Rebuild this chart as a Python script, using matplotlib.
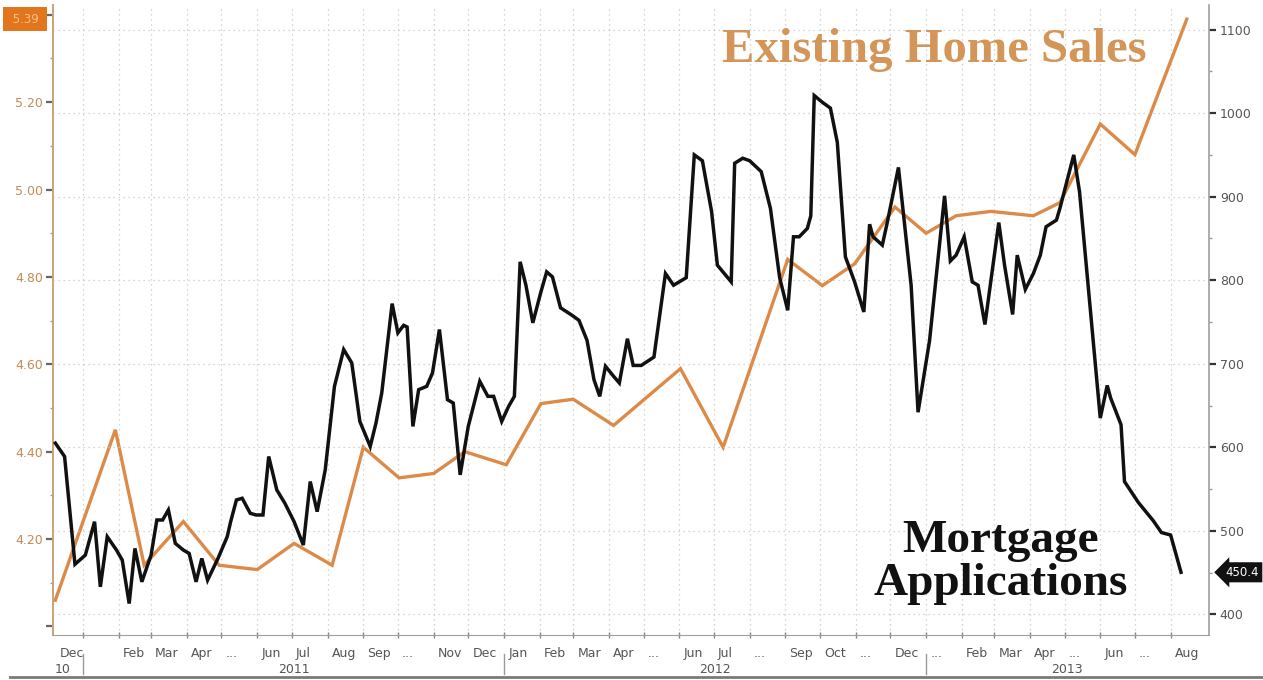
import matplotlib
matplotlib.use('Agg')
import matplotlib.pyplot as plt
import matplotlib.dates as mdates
import matplotlib.transforms as mtransforms
from matplotlib.lines import Line2D
from matplotlib.ticker import MultipleLocator, FuncFormatter
import pandas as pd

# Weekly MBA mortgage applications index (right axis)
app_dates = ['2010-12-08', '2010-12-16', '2010-12-25', '2011-01-03', '2011-01-11', '2011-01-16',
             '2011-01-22', '2011-01-30', '2011-02-04', '2011-02-10', '2011-02-15', '2011-02-21',
             '2011-03-01', '2011-03-06', '2011-03-11', '2011-03-16', '2011-03-22', '2011-03-29',
             '2011-04-03', '2011-04-09', '2011-04-14', '2011-04-19', '2011-04-28', '2011-05-06',
             '2011-05-09', '2011-05-14', '2011-05-19', '2011-05-26', '2011-05-31', '2011-06-06',
             '2011-06-11', '2011-06-18', '2011-06-25', '2011-07-03', '2011-07-11', '2011-07-17',
             '2011-07-23', '2011-07-30', '2011-08-07', '2011-08-15', '2011-08-22', '2011-08-29',
             '2011-09-04', '2011-09-07', '2011-09-12', '2011-09-17', '2011-09-26', '2011-10-01',
             '2011-10-06', '2011-10-09', '2011-10-14', '2011-10-19', '2011-10-26', '2011-10-31',
             '2011-11-06', '2011-11-13', '2011-11-18', '2011-11-24', '2011-12-01', '2011-12-11',
             '2011-12-18', '2011-12-23', '2011-12-30', '2012-01-05', '2012-01-10', '2012-01-15',
             '2012-01-20', '2012-01-26', '2012-02-02', '2012-02-07', '2012-02-12', '2012-02-19',
             '2012-02-29', '2012-03-06', '2012-03-13', '2012-03-19', '2012-03-24', '2012-03-29',
             '2012-04-05', '2012-04-10', '2012-04-17', '2012-04-22', '2012-04-29', '2012-05-10',
             '2012-05-20', '2012-05-27', '2012-06-07', '2012-06-14', '2012-06-21', '2012-06-29',
             '2012-07-04', '2012-07-16', '2012-07-19', '2012-07-26', '2012-08-01', '2012-08-11',
             '2012-08-19', '2012-08-27', '2012-09-03', '2012-09-08', '2012-09-13', '2012-09-20',
             '2012-09-23', '2012-09-26', '2012-10-03', '2012-10-10', '2012-10-16', '2012-10-23',
             '2012-10-31', '2012-11-08', '2012-11-13', '2012-11-16', '2012-11-24', '2012-11-28',
             '2012-12-08', '2012-12-19', '2012-12-25', '2013-01-04', '2013-01-17', '2013-01-22',
             '2013-01-27', '2013-02-03', '2013-02-10', '2013-02-15', '2013-02-21', '2013-03-05',
             '2013-03-10', '2013-03-17', '2013-03-21', '2013-03-28', '2013-04-04', '2013-04-10',
             '2013-04-15', '2013-04-24', '2013-04-27', '2013-05-09', '2013-05-14', '2013-06-01',
             '2013-06-07', '2013-06-10', '2013-06-19', '2013-06-22', '2013-07-04', '2013-07-17',
             '2013-07-24', '2013-08-01', '2013-08-10']
app_values = [605, 589, 460, 471, 511, 433,
              493, 477, 465, 413, 479, 439,
              471, 513, 513, 525, 485, 477,
              473, 439, 467, 441, 467, 493,
              511, 537, 539, 521, 519, 519,
              589, 549, 533, 511, 483, 559,
              523, 573, 673, 717, 701, 631,
              611, 601, 629, 665, 772, 737,
              746, 744, 625, 669, 673, 689,
              741, 657, 653, 567, 625, 679,
              661, 661, 631, 649, 661, 822,
              794, 749, 786, 810, 804, 767,
              758, 752, 728, 681, 661, 697,
              685, 677, 730, 698, 698, 708,
              808, 794, 803, 950, 943, 882,
              818, 798, 940, 946, 943, 930,
              886, 803, 764, 852, 852, 862,
              877, 1021, 1013, 1006, 965, 828,
              798, 762, 867, 852, 842, 867,
              935, 794, 642, 728, 901, 823,
              830, 852, 798, 794, 747, 869,
              818, 759, 830, 789, 808, 830,
              864, 872, 886, 950, 906, 635,
              674, 659, 627, 559, 534, 512,
              498, 495, 450.4]

# Existing home sales, millions (left axis)
sales_dates = ['2010-12-08', '2011-01-29', '2011-02-23', '2011-03-29', '2011-04-29', '2011-06-01',
               '2011-07-03', '2011-08-05', '2011-09-01', '2011-10-02', '2011-11-01', '2011-11-28',
               '2012-01-03', '2012-02-02', '2012-03-01', '2012-04-05', '2012-06-02', '2012-07-09',
               '2012-09-03', '2012-10-03', '2012-10-31', '2012-12-05', '2013-01-01', '2013-01-27',
               '2013-02-26', '2013-04-04', '2013-04-27', '2013-06-01', '2013-07-01', '2013-08-15']
sales_values = [4.06, 4.45, 4.14, 4.24, 4.14, 4.13,
                4.19, 4.14, 4.41, 4.34, 4.35, 4.40,
                4.37, 4.51, 4.52, 4.46, 4.59, 4.41,
                4.84, 4.78, 4.83, 4.96, 4.90, 4.94,
                4.95, 4.94, 4.97, 5.15, 5.08, 5.39]

# month labels, Jan 2011 .. Aug 2013
month_labels = ['', 'Feb', 'Mar', 'Apr', '...', 'Jun', 'Jul', 'Aug', 'Sep', '...', 'Nov', 'Dec',
                'Jan', 'Feb', 'Mar', 'Apr', '...', 'Jun', 'Jul', '...', 'Sep', 'Oct', '...', 'Dec',
                '...', 'Feb', 'Mar', 'Apr', '...', 'Jun', '...', 'Aug']
first_label = 'Dec'
year_labels = ['10', '2011', '2012', '2013']

ORANGE = '#dc8a48'
TITLE_ORANGE = '#d39558'
GRID = '#c8c8c8'
TICK_GREY = '#555555'

app_x = mdates.date2num(pd.to_datetime(app_dates))
sales_x = mdates.date2num(pd.to_datetime(sales_dates))
x_start = mdates.date2num(pd.Timestamp('2010-12-06'))
x_end = mdates.date2num(pd.Timestamp('2013-09-03'))
months = mdates.date2num(pd.date_range('2011-01-01', '2013-08-01', freq='MS'))
years = mdates.date2num(pd.to_datetime(['2011-01-01', '2012-01-01', '2013-01-01']))

fig = plt.figure(figsize=(12.63, 6.8), dpi=100)
ax = fig.add_axes([0.042, 0.066, 0.915, 0.927])
ax2 = ax.twinx()

# lines
ax.plot(sales_x, sales_values, color=ORANGE, lw=2.4, solid_joinstyle='miter', zorder=3)
ax2.plot(app_x, app_values, color='#111111', lw=2.5, solid_joinstyle='miter', zorder=3)

ax.set_xlim(x_start, x_end)
ax.set_ylim(3.98, 5.423)
ax2.set_ylim(375.2, 1129.7)

# grid: dotted verticals at month starts, dotted horizontals at right-axis ticks
for m in months:
    ax.axvline(m, color=GRID, lw=0.9, ls=(0, (1, 3)), zorder=1)
ax2.yaxis.set_major_locator(MultipleLocator(100))
ax2.yaxis.set_minor_locator(MultipleLocator(50))
ax2.grid(axis='y', which='major', color=GRID, lw=0.9, ls=(0, (1, 3)), zorder=0)

# left axis (top tick sits under the last-value tag)
ax.yaxis.set_major_locator(MultipleLocator(0.2))
ax.yaxis.set_minor_locator(MultipleLocator(0.1))
ax.yaxis.set_major_formatter(FuncFormatter(lambda v, p: '' if v < 4.1 or v > 5.3 else f'{v:.2f}'))
ax.tick_params(axis='y', which='major', direction='out', length=5, width=1.6, color='#666666',
               labelsize=9, labelcolor='#c48a55', pad=2)
ax.tick_params(axis='y', which='minor', direction='out', length=2, width=1, color='#999999')

# right axis
ax2.tick_params(axis='y', which='major', direction='out', length=5, width=1.6, color='#333333',
                labelsize=9, labelcolor=TICK_GREY, pad=3)
ax2.tick_params(axis='y', which='minor', direction='out', length=2, width=1, color='#999999')

# x axis: month ticks, labels drawn as text
ax.set_xticks(months)
ax.xaxis.set_major_formatter(plt.NullFormatter())
ax.tick_params(axis='x', direction='inout', length=4, width=1, color='#888888')

xtrans = mtransforms.blended_transform_factory(ax.transData, ax.transAxes)
for m, lab in zip(months, month_labels):
    ax.annotate(lab, xy=(m, 0), xycoords=xtrans, xytext=(3, -13), textcoords='offset points',
                ha='left', va='center', fontsize=9, color=TICK_GREY)
ax.annotate(first_label, xy=(x_start, 0), xycoords=xtrans, xytext=(5, -13),
            textcoords='offset points', ha='left', va='center', fontsize=9, color=TICK_GREY)

# year row with separators
ax.annotate(year_labels[0], xy=(x_start, 0), xycoords=xtrans, xytext=(1, -25),
            textcoords='offset points', ha='left', va='center', fontsize=9, color=TICK_GREY)
year_ends = list(years[1:]) + [x_end]
for y0, y1, lab in zip(years, year_ends, year_labels[1:]):
    ax.annotate(lab, xy=((y0 + y1) / 2, 0), xycoords=xtrans, xytext=(0, -25),
                textcoords='offset points', ha='center', va='center', fontsize=9, color=TICK_GREY)
for y0 in years:
    ax.plot([y0, y0], [-0.03, -0.062], transform=xtrans, color='#9a9a9a', lw=1, clip_on=False)

# spines
for a in (ax, ax2):
    a.spines['top'].set_visible(False)
ax.spines['left'].set_color('#c9a27a')
ax.spines['left'].set_linewidth(1.4)
ax2.spines['left'].set_visible(False)
ax2.spines['right'].set_color('#a0a0a0')
ax2.spines['right'].set_linewidth(1.2)
ax.spines['bottom'].set_color('#a0a0a0')
ax2.spines['bottom'].set_visible(False)
ax.spines['right'].set_visible(False)

# last-value tags
ax.annotate(f' {sales_values[-1]:.2f} ', xy=(0, sales_values[-1]), xycoords=('axes fraction', 'data'),
            xytext=(-20, 0), textcoords='offset points', ha='center', va='center',
            fontsize=8.5, color='#f6c08c', annotation_clip=False,
            bbox=dict(boxstyle='square,pad=0.45', fc='#e2761c', ec='none'))
ax2.annotate(f'{app_values[-1]:.1f}', xy=(1, app_values[-1]), xycoords=('axes fraction', 'data'),
             xytext=(24, 0), textcoords='offset points', ha='center', va='center',
             fontsize=8.5, color='white', annotation_clip=False,
             bbox=dict(boxstyle='larrow,pad=0.3', fc='#111111', ec='none'))

# series titles
fig.text(0.7395, 0.926, 'Existing Home Sales', ha='center', va='center', fontsize=35,
         fontweight='bold', family='Liberation Serif', color=TITLE_ORANGE)
fig.text(0.792, 0.173, 'Mortgage\nApplications', ha='center', va='center', fontsize=34,
         fontweight='bold', family='Liberation Serif', color='#111111', linespacing=1.05)

# bottom frame line
fig.add_artist(Line2D([0.008, 1.0], [0.004, 0.004], transform=fig.transFigure,
                      color='#7a7a7a', lw=2))

fig.savefig('out.png', dpi=100)
